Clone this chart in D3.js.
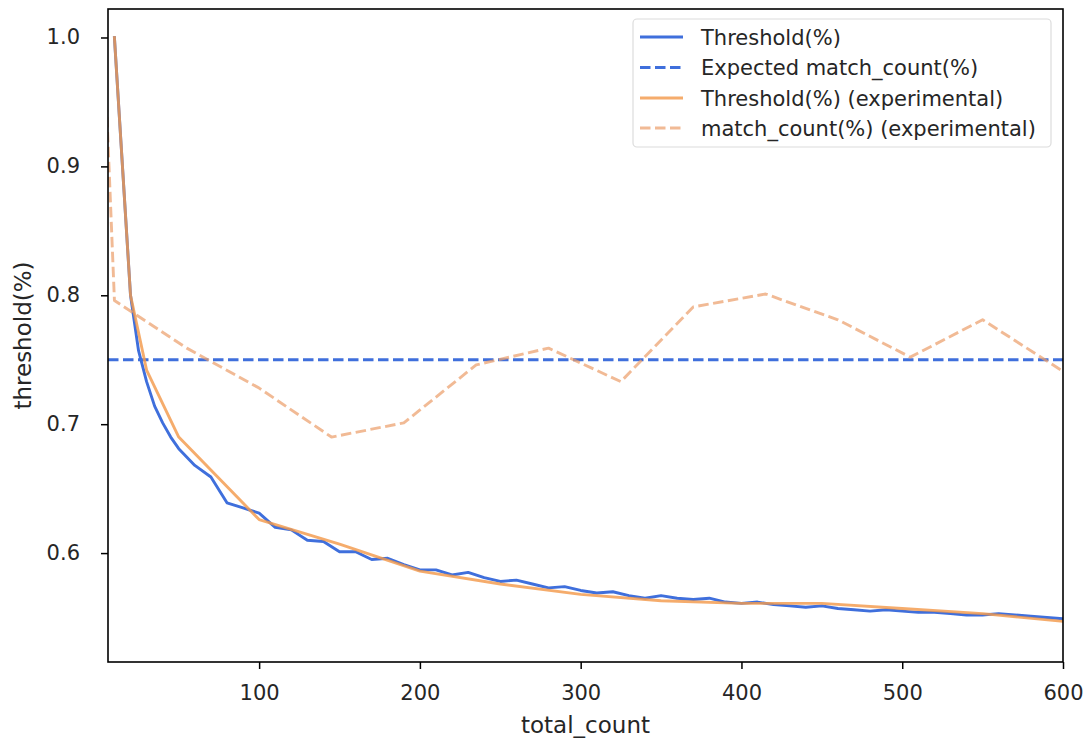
<!DOCTYPE html>
<html>
<head>
<meta charset="utf-8">
<script src="https://cdn.jsdelivr.net/npm/d3@7"></script>
<style>
  html, body { margin: 0; padding: 0; background: #fff; }
  svg text { font-family: "DejaVu Sans", sans-serif; fill: #262626; }
</style>
</head>
<body>
<svg id="chart" width="1090" height="745"></svg>
<script>
// ---- data ----
const thresholdX = [10,15,20,25,30,35,40,45,50,60,70,80,90,100,110,120,130,140,150,160,170,180,190,200,210,220,230,240,250,260,270,280,290,300,310,320,330,340,350,360,370,380,390,400,410,420,430,440,450,460,470,480,490,500,510,520,530,540,550,560,570,580,590,600];
const thresholdY = [1.000,0.900,0.800,0.757,0.733,0.714,0.701,0.690,0.681,0.668,0.659,0.639,0.635,0.631,0.620,0.618,0.610,0.609,0.601,0.601,0.595,0.596,0.591,0.587,0.587,0.583,0.585,0.581,0.578,0.579,0.576,0.573,0.574,0.571,0.569,0.570,0.567,0.565,0.567,0.565,0.564,0.565,0.562,0.561,0.562,0.560,0.559,0.558,0.559,0.557,0.556,0.555,0.556,0.555,0.554,0.554,0.553,0.552,0.552,0.553,0.552,0.551,0.550,0.549];

const expectedX = [6, 600];
const expectedY = [0.75, 0.75];

const thresholdExpX = [10,20,30,40,50,100,150,200,250,300,350,400,450,500,550,600];
const thresholdExpY = [1.0,0.800,0.742,0.716,0.690,0.626,0.607,0.586,0.576,0.568,0.563,0.561,0.561,0.557,0.553,0.547];

const matchExpX = [5,10,55,100,145,190,235,280,325,370,415,460,505,550,600];
const matchExpY = [0.95,0.796,0.759,0.728,0.690,0.701,0.746,0.759,0.733,0.791,0.801,0.781,0.752,0.781,0.741];

const xTicks = [100,200,300,400,500,600];
const yTicks = [0.6,0.7,0.8,0.9,1.0];

const legendLabels = ["Threshold(%)","Expected match_count(%)","Threshold(%) (experimental)","match_count(%) (experimental)"];

// ---- layout ----
const svg = d3.select("#chart");
const L = 108, R = 1063, T = 9, B = 662;
const x = d3.scaleLinear().domain([6, 600]).range([L, R]);
const y = d3.scaleLinear().domain([0.5155, 1.0221]).range([B, T]);

svg.append("rect").attr("width",1090).attr("height",745).attr("fill","#fff");

svg.append("clipPath").attr("id","clip")
  .append("rect").attr("x",L).attr("y",T).attr("width",R-L).attr("height",B-T);

const BLUE = "#3f6fdc", ORANGE = "#f39a4c", ORANGE2 = "#eba06c";

const series = [
  {xs: thresholdX, ys: thresholdY, color: BLUE, dash: null, op: 1},
  {xs: expectedX, ys: expectedY, color: BLUE, dash: "10.5,4.5", op: 1},
  {xs: thresholdExpX, ys: thresholdExpY, color: ORANGE, dash: null, op: 0.82},
  {xs: matchExpX, ys: matchExpY, color: ORANGE2, dash: "10.5,4.5", op: 0.72}
];

const line = d3.line().x(d => x(d[0])).y(d => y(d[1]));
const g = svg.append("g").attr("clip-path","url(#clip)");
series.forEach(s => {
  const pts = s.xs.map((v,i) => [v, s.ys[i]]);
  g.append("path").datum(pts)
    .attr("d", line)
    .attr("fill","none")
    .attr("stroke", s.color)
    .attr("stroke-width", 2.9)
    .attr("stroke-opacity", s.op)
    .attr("stroke-linejoin","round")
    .attr("stroke-linecap", s.dash ? "butt" : "square")
    .attr("stroke-dasharray", s.dash);
});

// ---- axes ----
const xAxis = svg.append("g").attr("transform", `translate(0,${B})`)
  .call(d3.axisBottom(x).tickValues(xTicks).tickFormat(d3.format("d")).tickSize(7).tickSizeOuter(0));
xAxis.select(".domain").remove();
xAxis.selectAll(".tick line").attr("stroke","#000").attr("stroke-width",1.5);
xAxis.selectAll(".tick text").attr("y", 38).attr("dy", null)
  .style("font-size","21px").style("font-family","DejaVu Sans").attr("fill","#262626");

const yAxis = svg.append("g").attr("transform", `translate(${L},0)`)
  .call(d3.axisLeft(y).tickValues(yTicks).tickFormat(d3.format(".1f")).tickSize(7).tickSizeOuter(0).tickPadding(21));
yAxis.select(".domain").remove();
yAxis.selectAll(".tick line").attr("stroke","#000").attr("stroke-width",1.5);
yAxis.selectAll(".tick text").attr("dy","0.3em")
  .style("font-size","21px").style("font-family","DejaVu Sans").attr("fill","#262626");

// frame
svg.append("rect").attr("x",L).attr("y",T).attr("width",R-L).attr("height",B-T)
  .attr("fill","none").attr("stroke","#000").attr("stroke-width",1.6);

// axis labels
svg.append("text").attr("x",(L+R)/2).attr("y",733).attr("text-anchor","middle")
  .style("font-size","23px").text("total_count");
svg.append("text").attr("transform",`translate(31,${(T+B)/2}) rotate(-90)`).attr("text-anchor","middle")
  .style("font-size","23px").text("threshold(%)");

// ---- legend ----
const lg = svg.append("g");
lg.append("rect").attr("x",633).attr("y",19).attr("width",418).attr("height",128).attr("rx",4)
  .attr("fill","#fff").attr("fill-opacity",0.8).attr("stroke","#dcdcdc").attr("stroke-width",1.2);
const rowY = [37, 67.5, 98, 128];
series.forEach((s,i) => {
  lg.append("line").attr("x1",640).attr("x2",683).attr("y1",rowY[i]).attr("y2",rowY[i])
    .attr("stroke",s.color).attr("stroke-width",2.9).attr("stroke-opacity",s.op)
    .attr("stroke-dasharray",s.dash);
  lg.append("text").attr("x",701).attr("y",rowY[i]).attr("dy","0.36em")
    .style("font-size","21px").text(legendLabels[i]);
});
</script>
</body>
</html>
